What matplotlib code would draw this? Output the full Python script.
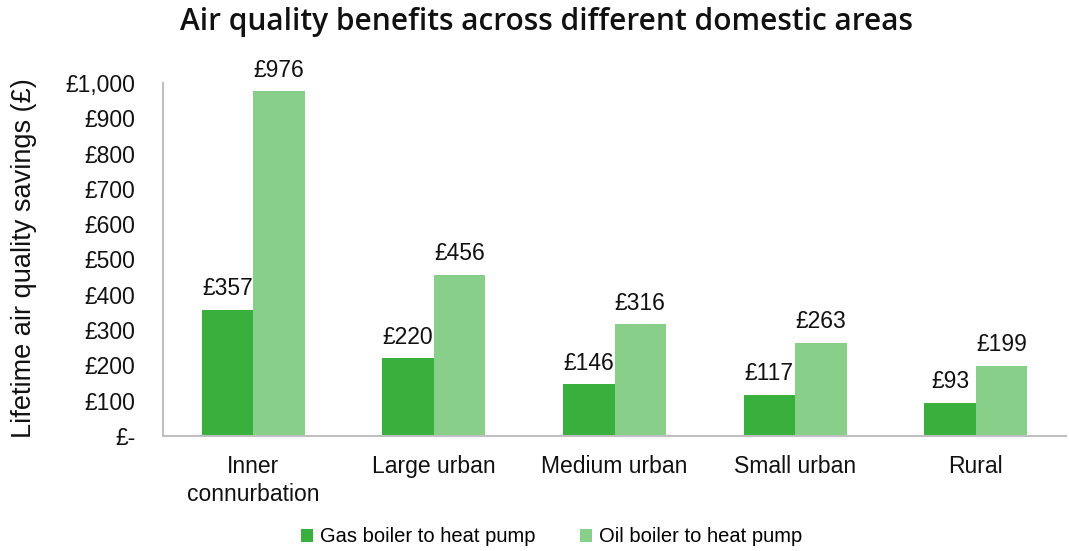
import matplotlib
matplotlib.use("Agg")
import matplotlib.pyplot as plt
import numpy as np
from matplotlib.ticker import FuncFormatter

categories = ["Inner\nconnurbation", "Large urban", "Medium urban", "Small urban", "Rural"]
gas = [357, 220, 146, 117, 93]
oil = [976, 456, 316, 263, 199]
series_names = ["Gas boiler to heat pump", "Oil boiler to heat pump"]
yticks = list(range(0, 1001, 100))

gas_color = "#39B03D"
oil_color = "#88D08A"

plt.rcParams['font.family'] = ['Liberation Sans', 'DejaVu Sans']

fig = plt.figure(figsize=(10.69, 5.51), dpi=100)
ax = fig.add_axes([163/1069, 1-436/551, (1066-163)/1069, (436-83)/551])

x = np.arange(len(categories))
w = 0.285
b1 = ax.bar(x - w/2, gas, w, color=gas_color, label=series_names[0])
b2 = ax.bar(x + w/2, oil, w, color=oil_color, label=series_names[1])

for bars in (b1, b2):
    for r in bars:
        ax.annotate(f"£{int(r.get_height())}", (r.get_x() + r.get_width()/2, r.get_height()),
                    xytext=(0, 7), textcoords="offset points", ha="center", va="bottom",
                    fontsize=16.5, color="#111111")

ax.set_xlim(-0.5, len(categories) - 0.5)
ax.set_ylim(0, 1000)
ax.set_yticks(yticks)
ax.yaxis.set_major_formatter(FuncFormatter(lambda v, p: "£-" if v == 0 else f"£{int(v):,}"))
ax.set_xticks(x)
ax.set_xticklabels(categories, fontsize=16.5, color="#111111", linespacing=1.25)
ax.tick_params(axis="y", labelsize=16.5, colors="#111111", length=0, pad=20)
ax.tick_params(axis="x", length=0, pad=14)

for s in ["top", "right"]:
    ax.spines[s].set_visible(False)
for s in ["left", "bottom"]:
    ax.spines[s].set_color("#BFBFBF")
    ax.spines[s].set_linewidth(1.5)

fig.text(24/1069, 1-258/551, "Lifetime air quality savings (£)", rotation=90,
         ha="center", va="center", fontsize=19.5, color="#111111")

fig.text(547/1069, 1-22/551, "Air quality benefits across different domestic areas",
         ha="center", va="center", fontsize=21.5, fontweight="semibold",
         family=["Open Sans", "DejaVu Sans"], color="#111111")

leg = fig.legend(handles=[b1, b2], labels=series_names, loc="center",
                 bbox_to_anchor=(552/1069, 1-537/551), ncol=2, frameon=False,
                 fontsize=14.5, handlelength=0.6, handleheight=0.6, columnspacing=2.2,
                 handletextpad=0.35)

fig.savefig("out.png", dpi=100)
